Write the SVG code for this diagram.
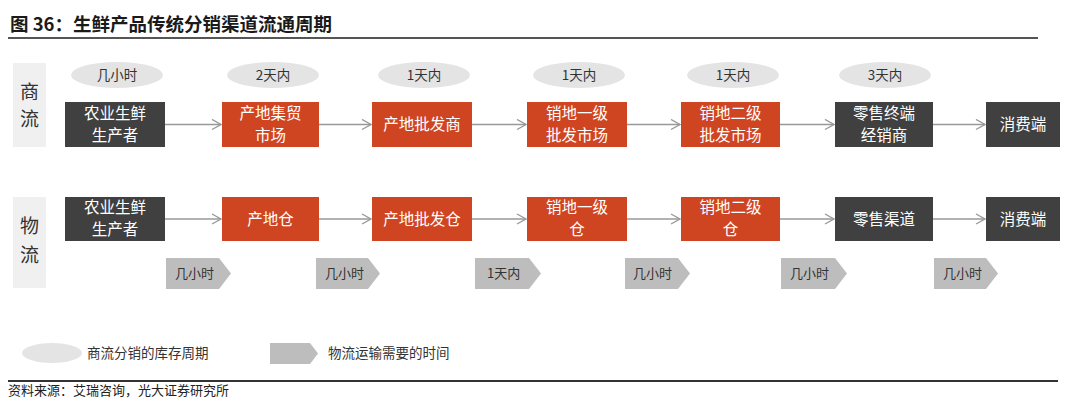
<svg xmlns="http://www.w3.org/2000/svg" width="1080" height="417" viewBox="0 0 1080 417">
<defs>
<style>
text{font-family:"Noto Sans CJK SC","Noto Sans",sans-serif}
.title{font-size:18.5px;font-weight:bold;fill:#1a1a1a}
.side{fill:#f0f0f0}
.sidet{font-size:19px;fill:#333;text-anchor:middle}
.dark{fill:#404040}
.org{fill:#cf4522}
.bt{font-size:15.5px;fill:#fff;text-anchor:middle}
.ell{fill:#e4e4e4}
.et{font-size:13.5px;fill:#333;text-anchor:middle}
.pent{fill:#bdbdbd}
.pt{font-size:13px;fill:#333}
.conn{stroke:#999;stroke-width:1.6;fill:none}
.lt{font-size:13.5px;fill:#333}
.src{font-size:13px;fill:#222}
</style>
<marker id="ah" markerWidth="12" markerHeight="12" refX="10" refY="6" orient="auto" markerUnits="userSpaceOnUse">
<path d="M1,1 L10,6 L1,11" fill="none" stroke="#999" stroke-width="1.4"/>
</marker>
</defs>
<rect width="1080" height="417" fill="#fff"/>
<text class="title" x="10" y="31">图 36：生鲜产品传统分销渠道流通周期</text>
<line x1="8" y1="38" x2="1038" y2="38" stroke="#555" stroke-width="2"/>

<g id="label-shangliu"><rect class="side" x="13" y="63" width="33" height="84"/><text class="sidet" x="29.5" y="99">商</text><text class="sidet" x="29.5" y="126">流</text></g>
<g id="label-wuliu"><rect class="side" x="13" y="197" width="33" height="91"/><text class="sidet" x="29.5" y="233">物</text><text class="sidet" x="29.5" y="262">流</text></g>

<g id="connectors">
<line class="conn" x1="165" y1="124.5" x2="221" y2="124.5" marker-end="url(#ah)"/>
<line class="conn" x1="319" y1="124.5" x2="371" y2="124.5" marker-end="url(#ah)"/>
<line class="conn" x1="472" y1="124.5" x2="526" y2="124.5" marker-end="url(#ah)"/>
<line class="conn" x1="627" y1="124.5" x2="680" y2="124.5" marker-end="url(#ah)"/>
<line class="conn" x1="780" y1="124.5" x2="834" y2="124.5" marker-end="url(#ah)"/>
<line class="conn" x1="933" y1="124.5" x2="985" y2="124.5" marker-end="url(#ah)"/>
<line class="conn" x1="165" y1="219" x2="221" y2="219" marker-end="url(#ah)"/>
<line class="conn" x1="319" y1="219" x2="371" y2="219" marker-end="url(#ah)"/>
<line class="conn" x1="472" y1="219" x2="526" y2="219" marker-end="url(#ah)"/>
<line class="conn" x1="627" y1="219" x2="680" y2="219" marker-end="url(#ah)"/>
<line class="conn" x1="780" y1="219" x2="834" y2="219" marker-end="url(#ah)"/>
<line class="conn" x1="933" y1="219" x2="985" y2="219" marker-end="url(#ah)"/>
</g>

<g id="ell1"><ellipse class="ell" cx="117" cy="75" rx="46" ry="13"/><text class="et" x="117" y="80">几小时</text></g>
<g id="ell2"><ellipse class="ell" cx="273" cy="75" rx="46" ry="13"/><text class="et" x="273" y="80">2天内</text></g>
<g id="ell3"><ellipse class="ell" cx="424" cy="75" rx="46" ry="13"/><text class="et" x="424" y="80">1天内</text></g>
<g id="ell4"><ellipse class="ell" cx="579" cy="75" rx="46" ry="13"/><text class="et" x="579" y="80">1天内</text></g>
<g id="ell5"><ellipse class="ell" cx="733" cy="75" rx="46" ry="13"/><text class="et" x="733" y="80">1天内</text></g>
<g id="ell6"><ellipse class="ell" cx="885" cy="75" rx="46" ry="13"/><text class="et" x="885" y="80">3天内</text></g>

<g id="s1"><rect class="dark" x="65" y="102" width="100" height="45"/><text class="bt" x="115" y="118.5">农业生鲜</text><text class="bt" x="115" y="140.5">生产者</text></g>
<g id="s2"><rect class="org" x="222" y="102" width="97" height="45"/><text class="bt" x="270.5" y="118.5">产地集贸</text><text class="bt" x="270.5" y="140.5">市场</text></g>
<g id="s3"><rect class="org" x="372" y="102" width="100" height="45"/><text class="bt" x="422" y="130">产地批发商</text></g>
<g id="s4"><rect class="org" x="527" y="102" width="100" height="45"/><text class="bt" x="577" y="118.5">销地一级</text><text class="bt" x="577" y="140.5">批发市场</text></g>
<g id="s5"><rect class="org" x="681" y="102" width="99" height="45"/><text class="bt" x="730.5" y="118.5">销地二级</text><text class="bt" x="730.5" y="140.5">批发市场</text></g>
<g id="s6"><rect class="dark" x="835" y="102" width="98" height="45"/><text class="bt" x="884" y="118.5">零售终端</text><text class="bt" x="884" y="140.5">经销商</text></g>
<g id="s7"><rect class="dark" x="986" y="102" width="74" height="45"/><text class="bt" x="1023" y="130">消费端</text></g>

<g id="w1"><rect class="dark" x="65" y="197" width="100" height="44"/><text class="bt" x="115" y="213">农业生鲜</text><text class="bt" x="115" y="235">生产者</text></g>
<g id="w2"><rect class="org" x="222" y="197" width="97" height="44"/><text class="bt" x="270.5" y="224.5">产地仓</text></g>
<g id="w3"><rect class="org" x="372" y="197" width="100" height="44"/><text class="bt" x="422" y="224.5">产地批发仓</text></g>
<g id="w4"><rect class="org" x="527" y="197" width="100" height="44"/><text class="bt" x="577" y="213">销地一级</text><text class="bt" x="577" y="235">仓</text></g>
<g id="w5"><rect class="org" x="681" y="197" width="99" height="44"/><text class="bt" x="730.5" y="213">销地二级</text><text class="bt" x="730.5" y="235">仓</text></g>
<g id="w6"><rect class="dark" x="835" y="197" width="98" height="44"/><text class="bt" x="884" y="224.5">零售渠道</text></g>
<g id="w7"><rect class="dark" x="986" y="197" width="74" height="44"/><text class="bt" x="1023" y="224.5">消费端</text></g>

<g id="p1"><path class="pent" d="M166,258 H219 L231,273.5 L219,289 H166 Z"/><text class="pt" x="175" y="278">几小时</text></g>
<g id="p2"><path class="pent" d="M316,258 H368 L380,273.5 L368,289 H316 Z"/><text class="pt" x="325" y="278">几小时</text></g>
<g id="p3"><path class="pent" d="M475,258 H529 L541,273.5 L529,289 H475 Z"/><text class="pt" x="487" y="278">1天内</text></g>
<g id="p4"><path class="pent" d="M625,258 H678 L690,273.5 L678,289 H625 Z"/><text class="pt" x="633" y="278">几小时</text></g>
<g id="p5"><path class="pent" d="M781,258 H835 L847,273.5 L835,289 H781 Z"/><text class="pt" x="790" y="278">几小时</text></g>
<g id="p6"><path class="pent" d="M934,258 H986 L998,273.5 L986,289 H934 Z"/><text class="pt" x="943" y="278">几小时</text></g>

<g id="legend">
<ellipse class="ell" cx="52" cy="353" rx="30" ry="10"/>
<text class="lt" x="87" y="358">商流分销的库存周期</text>
<path class="pent" d="M270,343 H310 L318,353.5 L310,364 H270 Z"/>
<text class="lt" x="328" y="358">物流运输需要的时间</text>
</g>

<line x1="8" y1="381" x2="1058" y2="381" stroke="#333" stroke-width="2"/>
<text class="src" x="8" y="395">资料来源：艾瑞咨询，光大证券研究所</text>
</svg>
